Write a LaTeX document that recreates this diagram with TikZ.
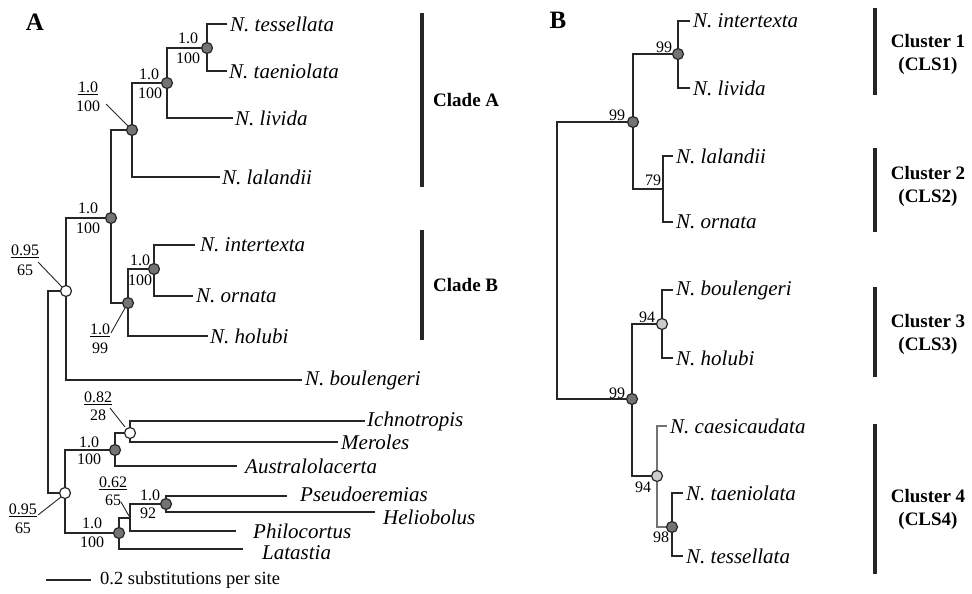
\documentclass[tikz,border=0pt]{standalone}
\usepackage{fontspec}
\setmainfont{Liberation Serif}
\begin{document}
\begin{tikzpicture}[x=1pt,y=-1pt,
  br/.style={line width=1.9pt, draw=black!85, line join=miter},
  brg/.style={line width=1.9pt, draw=black!55, line join=miter},
  sp/.style={font=\fontsize{21}{24}\selectfont\itshape, anchor=west, inner sep=0pt},
  sv/.style={font=\fontsize{16}{18}\selectfont, inner sep=0pt},
  dn/.style={circle, draw=black!85, line width=1.2pt, fill=black!55, minimum size=11pt, inner sep=0pt},
  lnd/.style={dn, fill=black!20},
  onn/.style={dn, fill=white},
  lead/.style={line width=0.9pt, draw=black!85},
  cbar/.style={line width=3.5pt, draw=black!85},
  cl/.style={font=\fontsize{19}{23}\selectfont\bfseries, align=center, inner sep=0pt},
  pl/.style={font=\fontsize{25}{28}\selectfont\bfseries, inner sep=0pt}]
\useasboundingbox (0,0) rectangle (972,594);

% ---------------- Panel A ----------------
\node[pl] (labA) at (35,22) {A};
\coordinate (rA) at (48,392);
\coordinate (n1) at (66,291);
\coordinate (n2) at (111,218);
\coordinate (n3) at (132,130);
\coordinate (n4) at (167,83);
\coordinate (n5) at (207,48);
\coordinate (n6) at (128,303);
\coordinate (n7) at (154,269);
\coordinate (tTess) at (227,24);
\coordinate (tTaen) at (227,71);
\coordinate (tLiv) at (233,118);
\coordinate (tLal) at (220,177);
\coordinate (tInt) at (195,245);
\coordinate (tOrn) at (193,296);
\coordinate (tHol) at (208,336);
\coordinate (tBou) at (302,380);
\coordinate (l1) at (65,493);
\coordinate (l2) at (115,450);
\coordinate (l3) at (130,433);
\coordinate (l4) at (119,533);
\coordinate (l6) at (130,518);
\coordinate (l5) at (166,504);
\coordinate (tIch) at (365,421);
\coordinate (tMer) at (338,442);
\coordinate (tAus) at (237,466);
\coordinate (tPse) at (287,496);
\coordinate (tHel) at (375,512);
\coordinate (tPhi) at (236,531);
\coordinate (tLat) at (243,549);

\draw[br] (rA) |- (n1);
\draw[br] (rA) |- (l1);
\draw[br] (n1) |- (n2);
\draw[br] (n1) |- (tBou);
\draw[br] (n2) |- (n3);
\draw[br] (n2) |- (n6);
\draw[br] (n3) |- (n4);
\draw[br] (n3) |- (tLal);
\draw[br] (n4) |- (n5);
\draw[br] (n4) |- (tLiv);
\draw[br] (n5) |- (tTess);
\draw[br] (n5) |- (tTaen);
\draw[br] (n6) |- (n7);
\draw[br] (n6) |- (tHol);
\draw[br] (n7) |- (tInt);
\draw[br] (n7) |- (tOrn);
\draw[br] (l1) |- (l2);
\draw[br] (l1) |- (l4);
\draw[br] (l2) |- (l3);
\draw[br] (l2) |- (tAus);
\draw[br] (l3) |- (tIch);
\draw[br] (l3) |- (tMer);
\draw[br] (l4) |- (l6);
\draw[br] (l4) |- (tLat);
\draw[br] (l6) |- (l5);
\draw[br] (l6) |- (tPhi);
\draw[br] (l5) |- (tPse);
\draw[br] (l5) |- (tHel);

\node[onn] (c1) at (n1) {};
\node[dn] (c2) at (n2) {};
\node[dn] (c3) at (n3) {};
\node[dn] (c4) at (n4) {};
\node[dn] (c5) at (n5) {};
\node[dn] (c6) at (n6) {};
\node[dn] (c7) at (n7) {};
\node[onn] (d1) at (l1) {};
\node[dn] (d2) at (l2) {};
\node[onn] (d3) at (l3) {};
\node[dn] (d4) at (l4) {};
\node[dn] (d5) at (l5) {};

\node[sp] (sTess) at (230,24) {N. tessellata};
\node[sp] (sTaen) at (229,71) {N. taeniolata};
\node[sp] (sLiv) at (235,118) {N. livida};
\node[sp] (sLal) at (222,177) {N. lalandii};
\node[sp] (sInt) at (200,245) {N. intertexta};
\node[sp] (sOrn) at (196,296) {N. ornata};
\node[sp] (sHol) at (210,336) {N. holubi};
\node[sp] (sBou) at (305,380) {N. boulengeri};
\node[sp] (sIch) at (367,421) {Ichnotropis};
\node[sp] (sMer) at (341,442) {Meroles};
\node[sp] (sAus) at (245,466) {Australolacerta};
\node[sp, text depth=0pt] (sPse) at (300,494) {Pseudoeremias};
\node[sp] (sHel) at (383,517) {Heliobolus};
\node[sp] (sPhi) at (253,531) {Philocortus};
\node[sp] (sLat) at (262,553) {Latastia};

% support values
\node[sv] (v5a) at (188,38) {1.0};
\node[sv] (v5b) at (188,58) {100};
\node[sv] (v4a) at (149,74) {1.0};
\node[sv] (v4b) at (150,93) {100};
\node[sv] (v3a) at (88,88) {\underline{1.0}};
\node[sv] (v3b) at (88,106) {100};
\node[sv] (v2a) at (88,208) {1.0};
\node[sv] (v2b) at (88,228) {100};
\node[sv] (v7a) at (140,260) {1.0};
\node[sv] (v7b) at (140,280) {100};
\node[sv] (v1a) at (25,251) {\underline{0.95}};
\node[sv] (v1b) at (25,270) {65};
\node[sv] (v6a) at (100,330) {\underline{1.0}};
\node[sv] (v6b) at (100,348) {99};
\node[sv] (w3a) at (98,398) {\underline{0.82}};
\node[sv] (w3b) at (98,415) {28};
\node[sv] (w2a) at (89,442) {1.0};
\node[sv] (w2b) at (89,459) {100};
\node[sv] (w1a) at (23,510) {\underline{0.95}};
\node[sv] (w1b) at (23,528) {65};
\node[sv] (w6a) at (113,483) {\underline{0.62}};
\node[sv] (w6b) at (113,500) {65};
\node[sv] (w5a) at (150,495) {1.0};
\node[sv] (w5b) at (148,513) {92};
\node[sv] (w4a) at (92,523) {1.0};
\node[sv] (w4b) at (92,542) {100};

\coordinate (q3a) at (106,104); \coordinate (q3b) at (128,126);
\coordinate (q1a) at (38,262);  \coordinate (q1b) at (62,287);
\coordinate (q6a) at (111,333); \coordinate (q6b) at (125,308);
\coordinate (p3a) at (110,408); \coordinate (p3b) at (125,427);
\coordinate (p1a) at (38,515);  \coordinate (p1b) at (61,497);
\coordinate (p6a) at (121,502); \coordinate (p6b) at (129,516);
\draw[lead] (q3a) -- (q3b);
\draw[lead] (q1a) -- (q1b);
\draw[lead] (q6a) -- (q6b);
\draw[lead] (p3a) -- (p3b);
\draw[lead] (p1a) -- (p1b);
\draw[lead] (p6a) -- (p6b);

% scale bar
\coordinate (sb1) at (46,580); \coordinate (sb2) at (91,580);
\draw[line width=1.2pt, draw=black!85] (sb1) -- (sb2);
\node[font=\fontsize{18.5}{20}\selectfont, anchor=west, inner sep=0pt] (sbt) at (100,580) {0.2 substitutions per site};

% clade bars
\coordinate (ca1) at (422,13); \coordinate (ca2) at (422,187);
\coordinate (cb1) at (422,230); \coordinate (cb2) at (422,340);
\draw[cbar] (ca1) -- (ca2);
\draw[cbar] (cb1) -- (cb2);
\node[cl, anchor=west] (clA) at (433,100) {Clade A};
\node[cl, anchor=west] (clB) at (433,285) {Clade B};

% ---------------- Panel B ----------------
\node[pl] (labB) at (558,20) {B};
\coordinate (rB) at (557,260);
\coordinate (b1) at (633,122);
\coordinate (b2) at (678,54);
\coordinate (b3) at (663,189);
\coordinate (b4) at (632,399);
\coordinate (b5) at (662,324);
\coordinate (b6) at (657,476);
\coordinate (b7) at (672,527);
\coordinate (uI) at (690,21);
\coordinate (uLv) at (690,88);
\coordinate (uLa) at (673,156);
\coordinate (uOr) at (673,222);
\coordinate (uBo) at (673,290);
\coordinate (uHo) at (673,358);
\coordinate (uCa) at (667,426);
\coordinate (uTa) at (683,493);
\coordinate (uTe) at (683,556);

\draw[br] (rB) |- (b1);
\draw[br] (rB) |- (b4);
\draw[br] (b1) |- (b2);
\draw[br] (b1) |- (b3);
\draw[br] (b2) |- (uI);
\draw[br] (b2) |- (uLv);
\draw[br] (b3) |- (uLa);
\draw[br] (b3) |- (uOr);
\draw[br] (b4) |- (b5);
\draw[br] (b4) |- (b6);
\draw[br] (b5) |- (uBo);
\draw[br] (b5) |- (uHo);
\draw[brg] (b6) |- (uCa);
\draw[brg] (b6) |- (b7);
\draw[br] (b7) |- (uTa);
\draw[br] (b7) |- (uTe);

\node[dn] (e1) at (b1) {};
\node[dn] (e2) at (b2) {};
\node[dn] (e4) at (b4) {};
\node[lnd] (e5) at (b5) {};
\node[lnd] (e6) at (b6) {};
\node[dn] (e7) at (b7) {};

\node[sp] (mI) at (693,21) {N. intertexta};
\node[sp] (mLv) at (693,88) {N. livida};
\node[sp] (mLa) at (676,156) {N. lalandii};
\node[sp] (mOr) at (676,222) {N. ornata};
\node[sp] (mBo) at (676,290) {N. boulengeri};
\node[sp] (mHo) at (676,358) {N. holubi};
\node[sp] (mCa) at (670,426) {N. caesicaudata};
\node[sp] (mTa) at (686,493) {N. taeniolata};
\node[sp] (mTe) at (686,556) {N. tessellata};

\node[sv] (x2) at (664,47) {99};
\node[sv] (x1) at (617,115) {99};
\node[sv] (x3) at (653,180) {79};
\node[sv] (x5) at (647,317) {94};
\node[sv] (x4) at (617,393) {99};
\node[sv] (x6) at (643,487) {94};
\node[sv] (x7) at (661,537) {98};

% cluster bars
\coordinate (k1a) at (875,8);   \coordinate (k1b) at (875,95);
\coordinate (k2a) at (875,148); \coordinate (k2b) at (875,232);
\coordinate (k3a) at (875,287); \coordinate (k3b) at (875,377);
\coordinate (k4a) at (875,424); \coordinate (k4b) at (875,574);
\draw[cbar] (k1a) -- (k1b);
\draw[cbar] (k2a) -- (k2b);
\draw[cbar] (k3a) -- (k3b);
\draw[cbar] (k4a) -- (k4b);
\node[cl] (g1) at (928,54) {Cluster 1\\(CLS1)};
\node[cl] (g2) at (928,186) {Cluster 2\\(CLS2)};
\node[cl] (g3) at (928,334) {Cluster 3\\(CLS3)};
\node[cl] (g4) at (928,509) {Cluster 4\\(CLS4)};
\end{tikzpicture}
\end{document}
